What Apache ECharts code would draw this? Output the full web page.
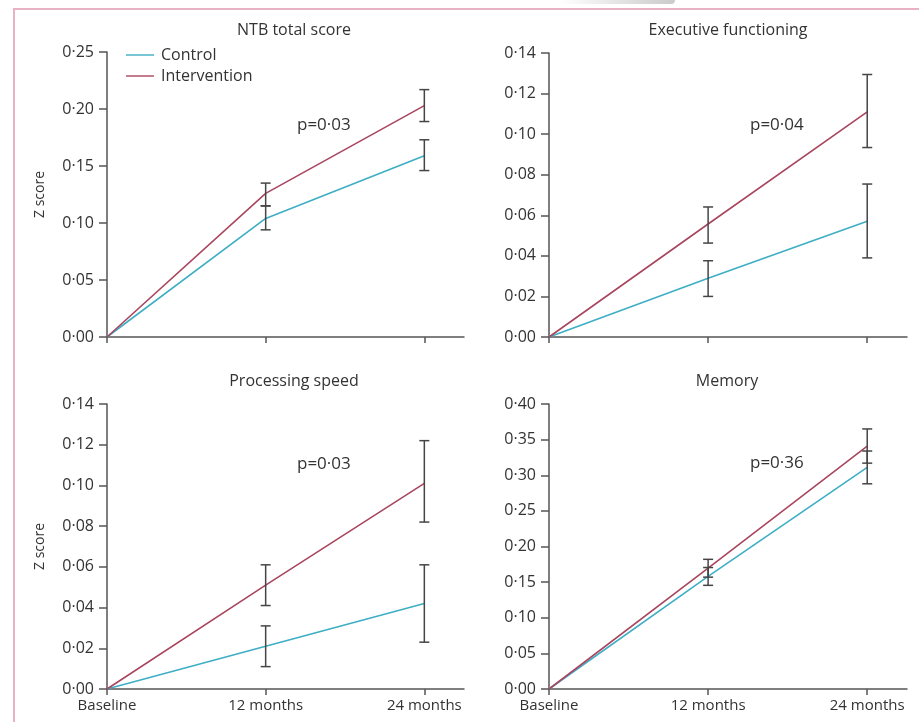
<!DOCTYPE html>
<html>
<head>
<meta charset="utf-8">
<script src="https://cdn.jsdelivr.net/npm/echarts@6/dist/echarts.min.js"></script>
<style>
  html, body { margin: 0; padding: 0; background: #fff; }
  #chart { width: 919px; height: 722px; }
</style>
</head>
<body>
<div id="chart"></div>
<script>
// time points (months) and their labels
const months = [0, 12, 24]
const monthLabels = ['Baseline', '12 months', '24 months']
const errMonths = [12, 24]

// NTB total score
const ntbControl = [0, 0.104, 0.159]
const ntbIntervention = [0, 0.126, 0.203]
const ntbControlLow = [0.094, 0.146]
const ntbControlHigh = [0.115, 0.173]
const ntbInterventionLow = [0.115, 0.189]
const ntbInterventionHigh = [0.135, 0.217]

// Executive functioning
const execControl = [0, 0.029, 0.057]
const execIntervention = [0, 0.0557, 0.111]
const execControlLow = [0.020, 0.039]
const execControlHigh = [0.0376, 0.0754]
const execInterventionLow = [0.0463, 0.0934]
const execInterventionHigh = [0.0641, 0.1294]

// Processing speed
const speedControl = [0, 0.021, 0.042]
const speedIntervention = [0, 0.051, 0.101]
const speedControlLow = [0.011, 0.023]
const speedControlHigh = [0.031, 0.061]
const speedInterventionLow = [0.041, 0.082]
const speedInterventionHigh = [0.061, 0.122]

// Memory
const memControl = [0, 0.158, 0.311]
const memIntervention = [0, 0.1695, 0.341]
const memControlLow = [0.1455, 0.288]
const memControlHigh = [0.1705, 0.334]
const memInterventionLow = [0.157, 0.317]
const memInterventionHigh = [0.182, 0.365]

// y axis ranges
const yMax = [0.25, 0.14, 0.14, 0.40]
const yStep = [0.05, 0.02, 0.02, 0.05]

const titles = ['NTB total score', 'Executive functioning', 'Processing speed', 'Memory']
const pValues = ['p=0·03', 'p=0·04', 'p=0·03', 'p=0·36']

const panels = [
  [ntbControl, ntbIntervention, ntbControlLow, ntbControlHigh, ntbInterventionLow, ntbInterventionHigh],
  [execControl, execIntervention, execControlLow, execControlHigh, execInterventionLow, execInterventionHigh],
  [speedControl, speedIntervention, speedControlLow, speedControlHigh, speedInterventionLow, speedInterventionHigh],
  [memControl, memIntervention, memControlLow, memControlHigh, memInterventionLow, memInterventionHigh]
]

const FONT = '"Open Sans", "Noto Sans", sans-serif'
const TEXT = '#333'
const AXIS = '#555'
const CONTROL = '#3eaec5'
const INTERVENTION = '#a9465f'

const grids = [
  { left: 107, top: 52, width: 357, height: 285 },
  { left: 549, top: 53, width: 358, height: 284 },
  { left: 107, top: 404, width: 357, height: 285 },
  { left: 549, top: 404, width: 358, height: 285 }
]

const xAxes = grids.map((g, i) => ({
  type: 'value',
  gridIndex: i,
  min: 0,
  max: 27,
  splitLine: { show: false },
  axisLine: { show: true, lineStyle: { color: AXIS, width: 1.5 } },
  axisTick: { show: true, customValues: months, length: 6, lineStyle: { color: AXIS, width: 1.5 } },
  axisLabel: {
    show: i >= 2,
    customValues: months,
    margin: 9,
    color: TEXT,
    fontFamily: FONT,
    fontSize: 15,
    formatter: v => monthLabels[months.indexOf(v)]
  }
}))

const yAxes = grids.map((g, i) => ({
  type: 'value',
  gridIndex: i,
  min: 0,
  max: yMax[i],
  interval: yStep[i],
  name: i % 2 === 0 ? 'Z score' : '',
  nameLocation: 'middle',
  nameGap: 60,
  nameRotate: 90,
  nameTextStyle: { color: TEXT, fontFamily: FONT, fontSize: 14 },
  splitLine: { show: false },
  axisLine: { show: true, lineStyle: { color: AXIS, width: 1.5 } },
  axisTick: { show: true, length: 8, lineStyle: { color: AXIS, width: 1.5 } },
  axisLabel: {
    color: TEXT,
    fontFamily: FONT,
    fontSize: 16,
    margin: 13,
    formatter: v => v.toFixed(2).replace('.', '·')
  }
}))

function errorBars(i, low, high) {
  return {
    type: 'custom',
    xAxisIndex: i,
    yAxisIndex: i,
    silent: true,
    z: 5,
    data: errMonths.map((m, k) => [m, low[k], high[k]]),
    renderItem: (params, api) => {
      const lo = api.coord([api.value(0), api.value(1)])
      const hi = api.coord([api.value(0), api.value(2)])
      const w = 5
      const style = { stroke: '#454545', lineWidth: 1.5 }
      return {
        type: 'group',
        children: [
          { type: 'line', shape: { x1: lo[0], y1: lo[1], x2: hi[0], y2: hi[1] }, style },
          { type: 'line', shape: { x1: lo[0] - w, y1: lo[1], x2: lo[0] + w, y2: lo[1] }, style },
          { type: 'line', shape: { x1: hi[0] - w, y1: hi[1], x2: hi[0] + w, y2: hi[1] }, style }
        ]
      }
    }
  }
}

const series = []
panels.forEach((p, i) => {
  series.push({
    name: 'Control', type: 'line', xAxisIndex: i, yAxisIndex: i,
    data: months.map((m, k) => [m, p[0][k]]),
    symbol: 'none', lineStyle: { color: CONTROL, width: 1.6 }, itemStyle: { color: CONTROL }
  })
  series.push({
    name: 'Intervention', type: 'line', xAxisIndex: i, yAxisIndex: i,
    data: months.map((m, k) => [m, p[1][k]]),
    symbol: 'none', lineStyle: { color: INTERVENTION, width: 1.6 }, itemStyle: { color: INTERVENTION }
  })
  series.push(errorBars(i, p[2], p[3]))
  series.push(errorBars(i, p[4], p[5]))
})

const titlePos = [[294, 30], [728, 30], [294, 381], [727, 381]]
const pPos = [[297, 125], [750, 125], [297, 464], [750, 463]]

const graphics = [
  {
    // faint grey shadow at the top edge of the scan
    type: 'rect',
    shape: { x: 560, y: -4, width: 115, height: 8, r: 4 },
    style: {
      fill: new echarts.graphic.LinearGradient(0, 0, 1, 0, [
        { offset: 0, color: 'rgba(150,150,150,0)' },
        { offset: 1, color: 'rgba(150,150,150,0.5)' }
      ])
    }
  },
  {
    type: 'rect',
    shape: { x: 14, y: 9, width: 1000, height: 800 },
    style: { fill: 'none', stroke: '#e8b2c3', lineWidth: 2 }
  }
]
titles.forEach((t, i) => {
  graphics.push({
    type: 'text', x: titlePos[i][0], y: titlePos[i][1],
    style: { text: t, fill: TEXT, font: '16px ' + FONT, textAlign: 'center', textVerticalAlign: 'middle' }
  })
  graphics.push({
    type: 'text', x: pPos[i][0], y: pPos[i][1],
    style: { text: pValues[i], fill: TEXT, font: '17px ' + FONT, textAlign: 'left', textVerticalAlign: 'middle' }
  })
})

const chart = echarts.init(document.getElementById('chart'))
chart.setOption({
  animation: false,
  backgroundColor: '#fff',
  grid: grids,
  xAxis: xAxes,
  yAxis: yAxes,
  legend: {
    data: ['Control', 'Intervention'],
    orient: 'vertical',
    left: 121,
    top: 42,
    itemWidth: 28,
    itemHeight: 14,
    itemGap: 5,
    icon: 'path://M0,6 L30,6 L30,7.5 L0,7.5 Z',
    textStyle: { color: TEXT, fontFamily: FONT, fontSize: 16, padding: [0, 0, 0, 2] }
  },
  graphic: graphics,
  series: series
})
</script>
</body>
</html>
